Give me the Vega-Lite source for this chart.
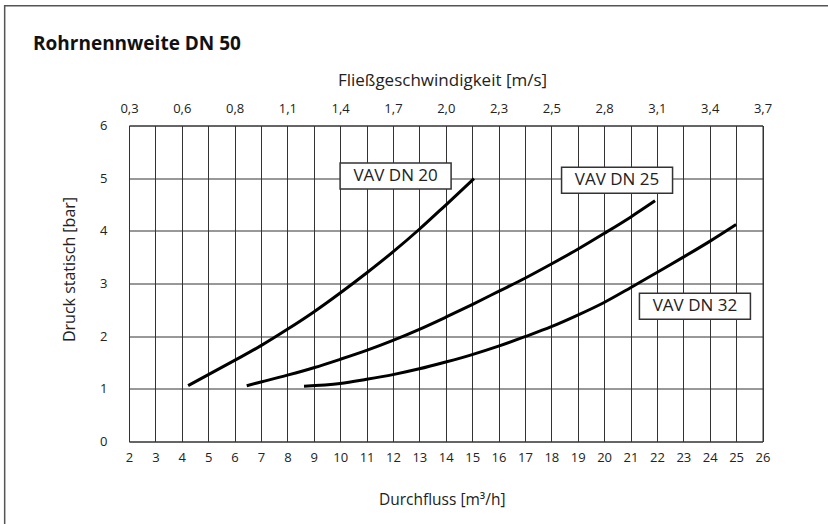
{
  "$schema": "https://vega.github.io/schema/vega-lite/v6.json",
  "width": 633.5,
  "height": 316,
  "autosize": {"type": "none"},
  "padding": {"left": 129, "top": 125.5, "right": 65.5, "bottom": 82.5},
  "background": "white",
  "title": {
    "text": "Rohrnennweite DN 50",
    "anchor": "start",
    "frame": "group",
    "font": "Open Sans",
    "fontSize": 19,
    "fontWeight": "bold",
    "color": "#111",
    "dx": -96,
    "offset": -49
  },
  "datasets": {
    "curves": [
      {"series": "VAV DN 20", "flow": 4.24, "pressure": 1.06},
      {"series": "VAV DN 20", "flow": 6, "pressure": 1.54},
      {"series": "VAV DN 20", "flow": 7, "pressure": 1.82},
      {"series": "VAV DN 20", "flow": 8, "pressure": 2.13},
      {"series": "VAV DN 20", "flow": 9, "pressure": 2.46},
      {"series": "VAV DN 20", "flow": 10, "pressure": 2.82},
      {"series": "VAV DN 20", "flow": 11, "pressure": 3.2},
      {"series": "VAV DN 20", "flow": 12, "pressure": 3.6},
      {"series": "VAV DN 20", "flow": 13, "pressure": 4.03},
      {"series": "VAV DN 20", "flow": 14, "pressure": 4.49},
      {"series": "VAV DN 20", "flow": 15.07, "pressure": 4.99},
      {"series": "VAV DN 25", "flow": 6.46, "pressure": 1.06},
      {"series": "VAV DN 25", "flow": 7, "pressure": 1.13},
      {"series": "VAV DN 25", "flow": 8, "pressure": 1.26},
      {"series": "VAV DN 25", "flow": 9, "pressure": 1.4},
      {"series": "VAV DN 25", "flow": 10, "pressure": 1.56},
      {"series": "VAV DN 25", "flow": 11, "pressure": 1.73},
      {"series": "VAV DN 25", "flow": 12, "pressure": 1.92},
      {"series": "VAV DN 25", "flow": 13, "pressure": 2.13},
      {"series": "VAV DN 25", "flow": 14, "pressure": 2.36},
      {"series": "VAV DN 25", "flow": 15, "pressure": 2.6},
      {"series": "VAV DN 25", "flow": 16, "pressure": 2.85},
      {"series": "VAV DN 25", "flow": 17, "pressure": 3.1},
      {"series": "VAV DN 25", "flow": 18, "pressure": 3.37},
      {"series": "VAV DN 25", "flow": 19, "pressure": 3.65},
      {"series": "VAV DN 25", "flow": 20, "pressure": 3.95},
      {"series": "VAV DN 25", "flow": 21, "pressure": 4.26},
      {"series": "VAV DN 25", "flow": 21.93, "pressure": 4.57},
      {"series": "VAV DN 32", "flow": 8.63, "pressure": 1.05},
      {"series": "VAV DN 32", "flow": 10, "pressure": 1.1},
      {"series": "VAV DN 32", "flow": 11, "pressure": 1.18},
      {"series": "VAV DN 32", "flow": 12, "pressure": 1.27},
      {"series": "VAV DN 32", "flow": 13, "pressure": 1.38},
      {"series": "VAV DN 32", "flow": 14, "pressure": 1.51},
      {"series": "VAV DN 32", "flow": 15, "pressure": 1.65},
      {"series": "VAV DN 32", "flow": 16, "pressure": 1.81},
      {"series": "VAV DN 32", "flow": 17, "pressure": 1.99},
      {"series": "VAV DN 32", "flow": 18, "pressure": 2.18},
      {"series": "VAV DN 32", "flow": 19, "pressure": 2.4},
      {"series": "VAV DN 32", "flow": 20, "pressure": 2.64},
      {"series": "VAV DN 32", "flow": 21, "pressure": 2.92},
      {"series": "VAV DN 32", "flow": 22, "pressure": 3.21},
      {"series": "VAV DN 32", "flow": 23, "pressure": 3.5},
      {"series": "VAV DN 32", "flow": 24, "pressure": 3.8},
      {"series": "VAV DN 32", "flow": 25, "pressure": 4.12}
    ],
    "labels": [
      {"label": "VAV DN 20", "flow": 12.1, "pressure": 5.04},
      {"label": "VAV DN 25", "flow": 20.49, "pressure": 4.96},
      {"label": "VAV DN 32", "flow": 23.44, "pressure": 2.57}
    ]
  },
  "layer": [
    {
      "data": {"values": [{}]},
      "mark": {"type": "rect", "fill": null, "stroke": "#555", "strokeWidth": 1.5},
      "encoding": {
        "x": {"datum": -2.71, "type": "quantitative", "axis": null},
        "x2": {"datum": 30},
        "y": {"datum": 8.274, "type": "quantitative"},
        "y2": {"datum": -2}
      }
    },
    {
      "data": {"name": "curves"},
      "mark": {"type": "line", "interpolate": "monotone", "strokeWidth": 3, "color": "#000"},
      "encoding": {
        "x": {
          "field": "flow",
          "type": "quantitative",
          "scale": {"domain": [2, 26], "nice": false, "zero": false},
          "axis": {
            "orient": "bottom",
            "values": [2,3,4,5,6,7,8,9,10,11,12,13,14,15,16,17,18,19,20,21,22,23,24,25,26],
            "grid": true,
            "labelFontSize": 13,
            "labelPadding": 10,
            "title": "Durchfluss [m³/h]",
            "titleFontSize": 15.5,
            "titlePadding": 28,
            "titleX": 312.7
          }
        },
        "y": {
          "field": "pressure",
          "type": "quantitative",
          "scale": {"domain": [0, 6], "nice": false},
          "axis": {
            "values": [0,0.5,1,1.5,2,2.5,3,3.5,4,4.5,5,5.5,6],
            "labelExpr": "datum.value % 1 == 0 ? datum.label : ''",
            "grid": true,
            "labelFontSize": 13,
            "labelPadding": 22,
            "title": "Druck statisch [bar]",
            "titleFontSize": 16,
            "titlePadding": 22,
            "titleY": 143.5
          }
        },
        "detail": {"field": "series"}
      }
    },
    {
      "data": {"name": "labels"},
      "mark": {
        "type": "point",
        "shape": "M-1,-0.234L1,-0.234L1,0.234L-1,0.234Z",
        "size": 12321,
        "filled": true,
        "fill": "white",
        "stroke": "#333",
        "strokeWidth": 1.5,
        "opacity": 1
      },
      "encoding": {
        "x": {
          "field": "flow",
          "type": "quantitative",
          "axis": {
            "orient": "top",
            "values": [2,4,6,8,10,12,14,16,18,20,22,24,26],
            "labelExpr": "['0,3','0,6','0,8','1,1','1,4','1,7','2,0','2,3','2,5','2,8','3,1','3,4','3,7'][(datum.value - 2) / 2]",
            "grid": false,
            "labelFontSize": 13,
            "labelPadding": 10,
            "title": "Fließgeschwindigkeit [m/s]",
            "titleFontSize": 17,
            "titlePadding": 13,
            "titleX": 313
          }
        },
        "y": {"field": "pressure", "type": "quantitative"}
      }
    },
    {
      "data": {"name": "labels"},
      "mark": {"type": "text", "font": "Open Sans", "fontSize": 17, "color": "#222", "align": "center", "baseline": "middle"},
      "encoding": {
        "x": {"field": "flow", "type": "quantitative", "axis": null},
        "y": {"field": "pressure", "type": "quantitative"},
        "text": {"field": "label"}
      }
    }
  ],
  "resolve": {"axis": {"x": "independent"}},
  "config": {
    "view": {"stroke": "#333", "strokeWidth": 1},
    "font": "Open Sans",
    "axis": {
      "labelFont": "Open Sans",
      "labelColor": "#222",
      "titleFont": "Open Sans",
      "titleColor": "#222",
      "titleFontWeight": "normal",
      "gridColor": "#333",
      "gridOpacity": 1,
      "gridWidth": 1,
      "ticks": false,
      "domain": false,
      "labelFlush": false,
      "labelOverlap": false,
      "labelBound": false
    }
  }
}
